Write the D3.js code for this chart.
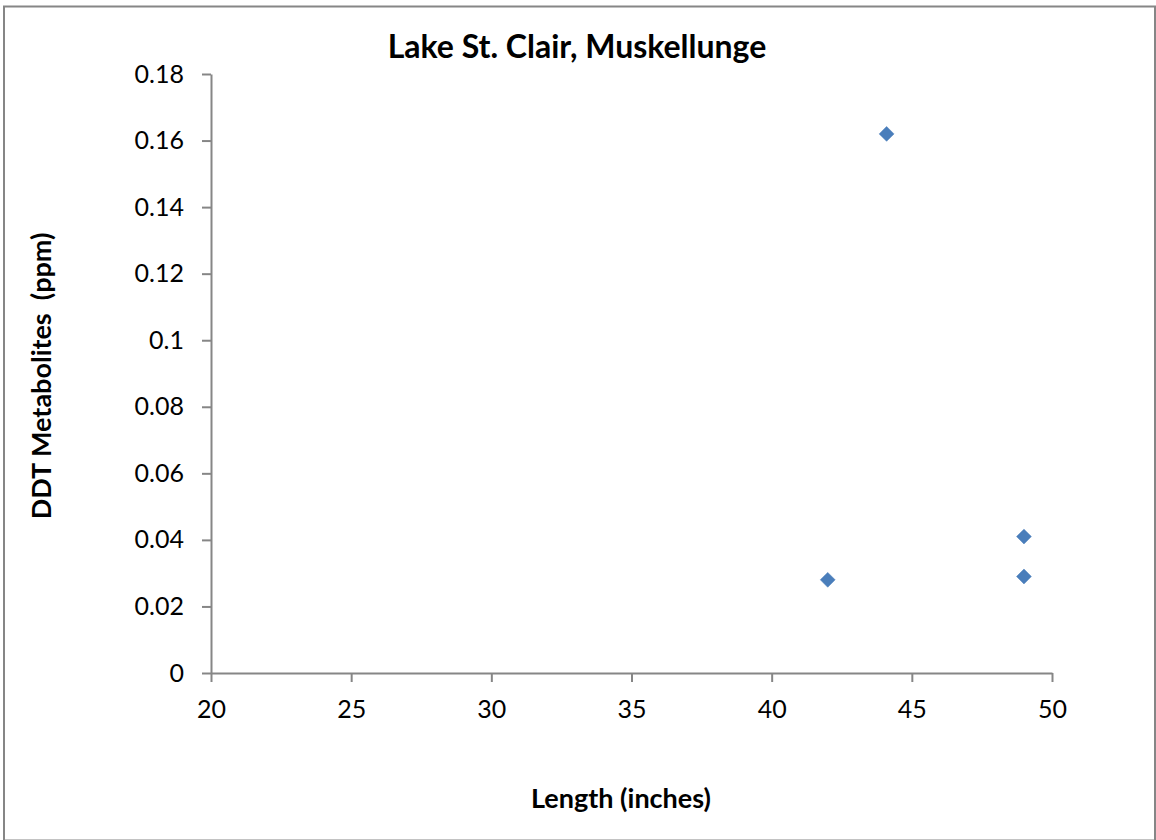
<!DOCTYPE html>
<html><head><meta charset="utf-8">
<script src="https://cdn.jsdelivr.net/npm/d3@7/dist/d3.min.js"></script>
<style>body{margin:0;background:#fff}svg{display:block}text{font-family:Lato,"Open Sans",sans-serif}</style>
</head><body><svg id="c" width="1156" height="840"></svg>
<script>
const title = "Lake St. Clair, Muskellunge";
const xTitle = "Length (inches)";
const yTitle = "DDT Metabolites  (ppm)";
const lengths = [44.1, 42, 49, 49];
const ddt = [0.162, 0.028, 0.041, 0.029];
const xTicks = [20, 25, 30, 35, 40, 45, 50];
const yTicks = [0, 0.02, 0.04, 0.06, 0.08, 0.1, 0.12, 0.14, 0.16, 0.18];

const svg = d3.select("#c");
svg.append("rect").attr("x",4).attr("y",6.5).attr("width",1151).attr("height",834)
  .attr("fill","#fff").attr("stroke","#868686").attr("stroke-width",2);

const x = d3.scaleLinear().domain([20,50]).range([211,1052]);
const y = d3.scaleLinear().domain([0,0.18]).range([673,74]);

const gx = svg.append("g").attr("transform","translate(0,673)")
  .call(d3.axisBottom(x).tickValues(xTicks).tickSize(9).tickPadding(18).tickSizeOuter(0));
const gy = svg.append("g").attr("transform","translate(211,0)")
  .call(d3.axisLeft(y).tickValues(yTicks).tickSize(9).tickPadding(18).tickSizeOuter(0)
    .tickFormat(d => d3.format("")(+d.toFixed(2))));
[gx,gy].forEach(g=>{
  g.select(".domain").attr("stroke","#868686").attr("stroke-width",2);
  g.selectAll(".tick line").attr("stroke","#868686").attr("stroke-width",2);
  g.selectAll(".tick text").attr("fill","#000").style("font-size","25px").style("font-family","Lato, sans-serif");
});
gx.selectAll(".tick text").attr("dy","0.71em");

svg.append("g").selectAll("path").data(lengths).join("path")
  .attr("d", d3.symbol(d3.symbolSquare, 110))
  .attr("transform",(d,i)=>`translate(${x(d)},${y(ddt[i])}) rotate(45)`)
  .attr("fill","#4a7ebb").attr("stroke","#4a7ebb").attr("stroke-width",0.5);

svg.append("text").attr("x",577).attr("y",58).attr("text-anchor","middle")
  .style("font-size","32px").style("font-weight","bold").text(title);
svg.append("text").attr("x",621).attr("y",808).attr("text-anchor","middle")
  .style("font-size","27px").style("font-weight","bold").text(xTitle);
svg.append("text").attr("transform","translate(51,376) rotate(-90)").attr("text-anchor","middle")
  .style("font-size","27px").style("font-weight","bold").style("white-space","pre").text(yTitle);
</script></body></html>
